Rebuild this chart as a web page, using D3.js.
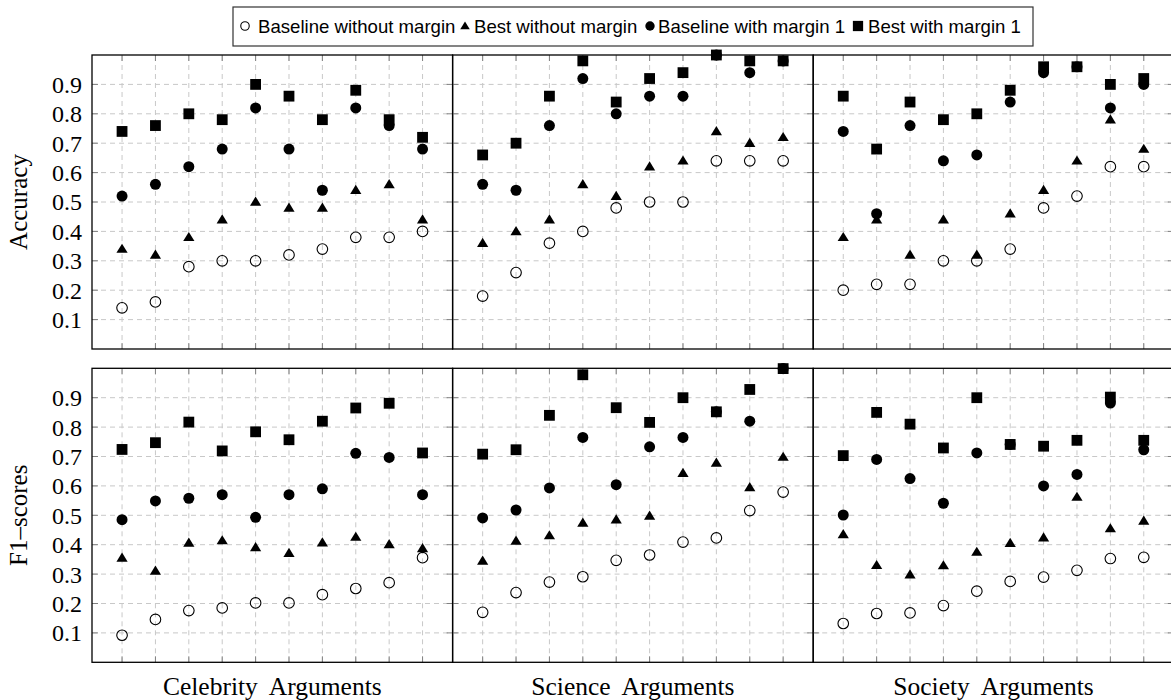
<!DOCTYPE html>
<html>
<head>
<meta charset="utf-8">
<script src="https://cdn.jsdelivr.net/npm/d3@7"></script>
<style>
  html, body { margin: 0; padding: 0; background: #fff; }
  svg { display: block; }
</style>
</head>
<body>
<svg id="chart" width="1171" height="700"></svg>
<script>
// ---- data ----
const categories = ["Celebrity Arguments", "Science Arguments", "Society Arguments"];
const metrics = ["Accuracy", "F1–scores"];
const xPoints = [1, 2, 3, 4, 5, 6, 7, 8, 9, 10];
const yTicks = [0.1, 0.2, 0.3, 0.4, 0.5, 0.6, 0.7, 0.8, 0.9];
const seriesNames = ["Baseline without margin", "Best without margin", "Baseline with margin 1", "Best with margin 1"];

// Accuracy: one row per category (Celebrity, Science, Society)
const accBaselineNoMargin = [
  [0.14, 0.16, 0.28, 0.30, 0.30, 0.32, 0.34, 0.38, 0.38, 0.40],
  [0.18, 0.26, 0.36, 0.40, 0.48, 0.50, 0.50, 0.64, 0.64, 0.64],
  [0.20, 0.22, 0.22, 0.30, 0.30, 0.34, 0.48, 0.52, 0.62, 0.62]
];
const accBestNoMargin = [
  [0.34, 0.32, 0.38, 0.44, 0.50, 0.48, 0.48, 0.54, 0.56, 0.44],
  [0.36, 0.40, 0.44, 0.56, 0.52, 0.62, 0.64, 0.74, 0.70, 0.72],
  [0.38, 0.44, 0.32, 0.44, 0.32, 0.46, 0.54, 0.64, 0.78, 0.68]
];
const accBaselineMargin = [
  [0.52, 0.56, 0.62, 0.68, 0.82, 0.68, 0.54, 0.82, 0.76, 0.68],
  [0.56, 0.54, 0.76, 0.92, 0.80, 0.86, 0.86, 1.00, 0.94, 0.98],
  [0.74, 0.46, 0.76, 0.64, 0.66, 0.84, 0.94, 0.96, 0.82, 0.90]
];
const accBestMargin = [
  [0.74, 0.76, 0.80, 0.78, 0.90, 0.86, 0.78, 0.88, 0.78, 0.72],
  [0.66, 0.70, 0.86, 0.98, 0.84, 0.92, 0.94, 1.00, 0.98, 0.98],
  [0.86, 0.68, 0.84, 0.78, 0.80, 0.88, 0.96, 0.96, 0.90, 0.92]
];

// F1-scores
const f1BaselineNoMargin = [
  [0.092, 0.146, 0.176, 0.185, 0.202, 0.202, 0.230, 0.251, 0.271, 0.356],
  [0.170, 0.237, 0.273, 0.291, 0.347, 0.365, 0.409, 0.423, 0.516, 0.579],
  [0.132, 0.166, 0.168, 0.193, 0.242, 0.275, 0.290, 0.313, 0.353, 0.357]
];
const f1BestNoMargin = [
  [0.355, 0.311, 0.406, 0.414, 0.391, 0.371, 0.407, 0.426, 0.401, 0.387],
  [0.345, 0.413, 0.431, 0.474, 0.485, 0.498, 0.643, 0.678, 0.595, 0.698],
  [0.435, 0.330, 0.298, 0.329, 0.375, 0.405, 0.424, 0.562, 0.455, 0.481]
];
const f1BaselineMargin = [
  [0.485, 0.549, 0.558, 0.570, 0.493, 0.570, 0.590, 0.711, 0.697, 0.570],
  [0.491, 0.518, 0.593, 0.765, 0.604, 0.733, 0.765, 0.852, 0.820, 0.999],
  [0.501, 0.690, 0.625, 0.541, 0.712, 0.741, 0.600, 0.639, 0.882, 0.723]
];
const f1BestMargin = [
  [0.724, 0.747, 0.817, 0.719, 0.784, 0.757, 0.820, 0.865, 0.881, 0.712],
  [0.708, 0.723, 0.840, 0.978, 0.866, 0.816, 0.900, 0.852, 0.928, 0.999],
  [0.703, 0.850, 0.810, 0.729, 0.900, 0.741, 0.735, 0.755, 0.902, 0.755]
];

const metricSeries = [
  [accBaselineNoMargin, accBestNoMargin, accBaselineMargin, accBestMargin],
  [f1BaselineNoMargin, f1BestNoMargin, f1BaselineMargin, f1BestMargin]
];

// ---- layout ----
const svg = d3.select("#chart");
const panelLeft = 92, panelW = 360.6;
const rowTops = [55, 368.3], panelH = 294;
const serif = "'Liberation Serif', 'Times New Roman', serif";
const sans = "'Liberation Sans', Arial, Helvetica, sans-serif";

function marker(g, kind, x, y, s) {
  if (kind === 0) {
    g.append("circle").attr("cx", x).attr("cy", y).attr("r", 5.3 * s)
      .attr("fill", "none").attr("stroke", "#000").attr("stroke-width", 1.1);
  } else if (kind === 1) {
    const h = 5.4 * s, w = 5.6 * s;
    g.append("path")
      .attr("d", `M${x},${y - h}L${x + w},${y + h * 0.7}L${x - w},${y + h * 0.7}Z`)
      .attr("fill", "#000");
  } else if (kind === 2) {
    g.append("circle").attr("cx", x).attr("cy", y).attr("r", 5.5 * s).attr("fill", "#000");
  } else {
    const a = 5.4 * s;
    g.append("rect").attr("x", x - a).attr("y", y - a).attr("width", 2 * a).attr("height", 2 * a).attr("fill", "#000");
  }
}

metrics.forEach((metric, r) => {
  const y = d3.scaleLinear().domain([0, 1]).range([rowTops[r] + panelH, rowTops[r]]);
  categories.forEach((cat, c) => {
    const x0 = panelLeft + c * panelW;
    const x = d3.scaleLinear().domain([0.1, 10.9]).range([x0, x0 + panelW]);
    const g = svg.append("g");

    // grid
    g.selectAll(".hg").data(yTicks).enter().append("line")
      .attr("x1", x0).attr("x2", x0 + panelW)
      .attr("y1", d => y(d)).attr("y2", d => y(d))
      .attr("stroke", "#c8c8c8").attr("stroke-width", 1).attr("stroke-dasharray", "5,4");
    g.selectAll(".vg").data(xPoints).enter().append("line")
      .attr("x1", d => x(d)).attr("x2", d => x(d))
      .attr("y1", y(0)).attr("y2", y(1))
      .attr("stroke", "#c8c8c8").attr("stroke-width", 1).attr("stroke-dasharray", "5,4");

    // ticks (inward, both sides)
    const tl = 6;
    yTicks.forEach(t => {
      g.append("line").attr("x1", x0).attr("x2", x0 + tl).attr("y1", y(t)).attr("y2", y(t)).attr("stroke", "#808080");
      g.append("line").attr("x1", x0 + panelW - tl).attr("x2", x0 + panelW).attr("y1", y(t)).attr("y2", y(t)).attr("stroke", "#808080");
    });
    xPoints.forEach(t => {
      g.append("line").attr("x1", x(t)).attr("x2", x(t)).attr("y1", y(0)).attr("y2", y(0) - tl).attr("stroke", "#808080");
      g.append("line").attr("x1", x(t)).attr("x2", x(t)).attr("y1", y(1)).attr("y2", y(1) + tl).attr("stroke", "#808080");
    });

    // frame
    g.append("rect").attr("x", x0).attr("y", y(1)).attr("width", panelW).attr("height", panelH)
      .attr("fill", "none").attr("stroke", "#000").attr("stroke-width", 1.3);

    // markers
    metricSeries[r].forEach((arr, s) => {
      const vals = arr[c];
      const mg = g.append("g");
      xPoints.forEach((xp, i) => marker(mg, s, x(xp), y(vals[i]), 1));
    });

    // y tick labels on first column
    if (c === 0) {
      yTicks.forEach(t => {
        svg.append("text").attr("x", x0 - 10).attr("y", y(t)).attr("dy", "0.35em")
          .attr("text-anchor", "end").attr("font-family", serif).attr("font-size", 24)
          .text(d3.format(".1f")(t));
      });
      svg.append("text")
        .attr("transform", `translate(27,${(y(0) + y(1)) / 2}) rotate(-90)`)
        .attr("text-anchor", "middle").attr("font-family", serif).attr("font-size", 25)
        .text(metric);
    }
    if (r === 1) {
      svg.append("text").attr("x", x0 + panelW / 2).attr("y", 695)
        .attr("text-anchor", "middle").attr("font-family", serif).attr("font-size", 25.5)
        .attr("word-spacing", "6px")
        .text(cat);
    }
  });
});

// ---- legend ----
const lg = svg.append("g");
lg.append("rect").attr("x", 233).attr("y", 7).attr("width", 800).attr("height", 39)
  .attr("fill", "#fff").attr("stroke", "#333").attr("stroke-width", 1.2);
const legendMarkerX = [245, 465, 650, 858];
const legendTextGap = [13, 9, 8, 10];
const legendScale = [0.8, 0.85, 0.85, 0.95];
seriesNames.forEach((name, s) => {
  marker(lg, s, legendMarkerX[s], 26, legendScale[s]);
  lg.append("text").attr("x", legendMarkerX[s] + legendTextGap[s]).attr("y", 26).attr("dy", "0.35em")
    .attr("font-family", sans).attr("font-size", 18.6).text(name);
});
</script>
</body>
</html>
